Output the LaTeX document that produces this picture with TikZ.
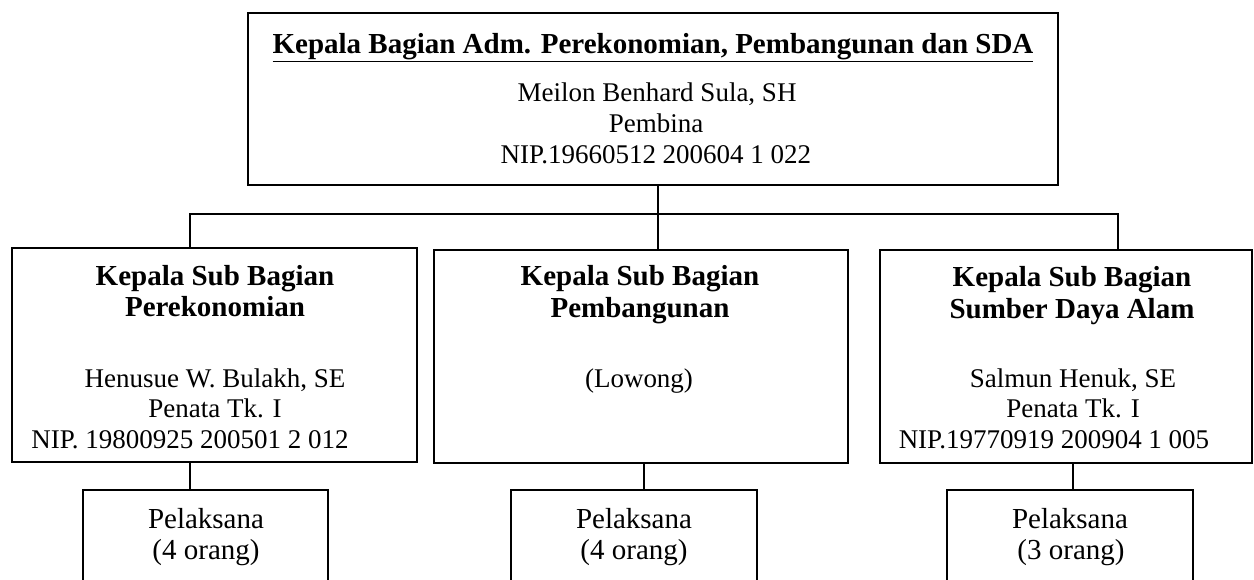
\documentclass[tikz,border=0pt]{standalone}
\usepackage{fontspec}
\setmainfont{Liberation Serif}
\begin{document}
\begin{tikzpicture}[x=1pt,y=-1pt,
  box/.style={draw, line width=1.2pt, inner sep=0pt},
  txt/.style={inner sep=0pt, yshift=-6pt, font=\fontsize{27}{31}\selectfont, text height=0.7em, text depth=0.2em},
  btxt/.style={inner sep=0pt, yshift=-6pt, font=\fontsize{29}{33}\selectfont\bfseries, text height=0.7em, text depth=0.2em},
  ptxt/.style={inner sep=0pt, yshift=-6pt, font=\fontsize{29}{33}\selectfont, text height=0.7em, text depth=0.2em},
  link/.style={line width=1.2pt}]
\useasboundingbox (0,0) rectangle (1254,580);
\clip (0,0) rectangle (1254,580);
% boxes
\node[box, minimum width=810pt, minimum height=172pt] (top) at (653,99) {};
\node[box, minimum width=405pt, minimum height=214pt] (left) at (214.5,355) {};
\node[box, minimum width=414pt, minimum height=213pt] (mid) at (641,356.5) {};
\node[box, minimum width=372pt, minimum height=213pt] (right) at (1066,356.5) {};
\node[box, minimum width=245pt, minimum height=120pt] (pl1) at (205.5,550) {};
\node[box, minimum width=246pt, minimum height=120pt] (pl2) at (634,550) {};
\node[box, minimum width=246pt, minimum height=120pt] (pl3) at (1070,550) {};
% connectors
\coordinate (busL) at (190,214);
\coordinate (busM) at (658,214);
\coordinate (busR) at (1118,214);
\draw[link] (top.south -| busM) -- (mid.north -| busM);
\draw[link] (left.north -| busL) -- (busL) -- (busR) -- (right.north -| busR);
\coordinate (c1) at (190,476);
\coordinate (c2) at (644,476);
\coordinate (c3) at (1073,476);
\draw[link] (left.south -| c1) -- (pl1.north -| c1);
\draw[link] (mid.south -| c2) -- (pl2.north -| c2);
\draw[link] (right.south -| c3) -- (pl3.north -| c3);
% top texts
\node[btxt] (t0) at (653,45) {\underline{Kepala Bagian Adm. Perekonomian, Pembangunan dan SDA}};
\node[txt] (t1) at (657,93) {Meilon Benhard Sula, SH};
\node[txt] (t2) at (656,124) {Pembina};
\node[txt] (t3) at (656,155) {NIP.19660512 200604 1 022};
% left texts
\node[btxt] (l0) at (215,277) {Kepala Sub Bagian};
\node[btxt] (l1) at (215,308) {Perekonomian};
\node[txt] (l2) at (215,379) {Henusue W. Bulakh, SE};
\node[txt] (l3) at (215,409) {Penata Tk. I};
\node[txt] (l4) at (190,440) {NIP. 19800925 200501 2 012};
% middle texts
\node[btxt] (m0) at (640,277) {Kepala Sub Bagian};
\node[btxt] (m1) at (640,309) {Pembangunan};
\node[txt] (m2) at (639,379) {(Lowong)};
% right texts
\node[btxt] (r0) at (1072,278) {Kepala Sub Bagian};
\node[btxt] (r1) at (1072,310) {Sumber Daya Alam};
\node[txt] (r2) at (1073,379) {Salmun Henuk, SE};
\node[txt] (r3) at (1073,409) {Penata Tk. I};
\node[txt] (r4) at (1054,440) {NIP.19770919 200904 1 005};
% pelaksana texts
\node[ptxt] (p1a) at (206,520) {Pelaksana};
\node[ptxt] (p1b) at (206,551) {(4 orang)};
\node[ptxt] (p2a) at (634,520) {Pelaksana};
\node[ptxt] (p2b) at (634,551) {(4 orang)};
\node[ptxt] (p3a) at (1070,520) {Pelaksana};
\node[ptxt] (p3b) at (1071,551) {(3 orang)};
\end{tikzpicture}
\end{document}
